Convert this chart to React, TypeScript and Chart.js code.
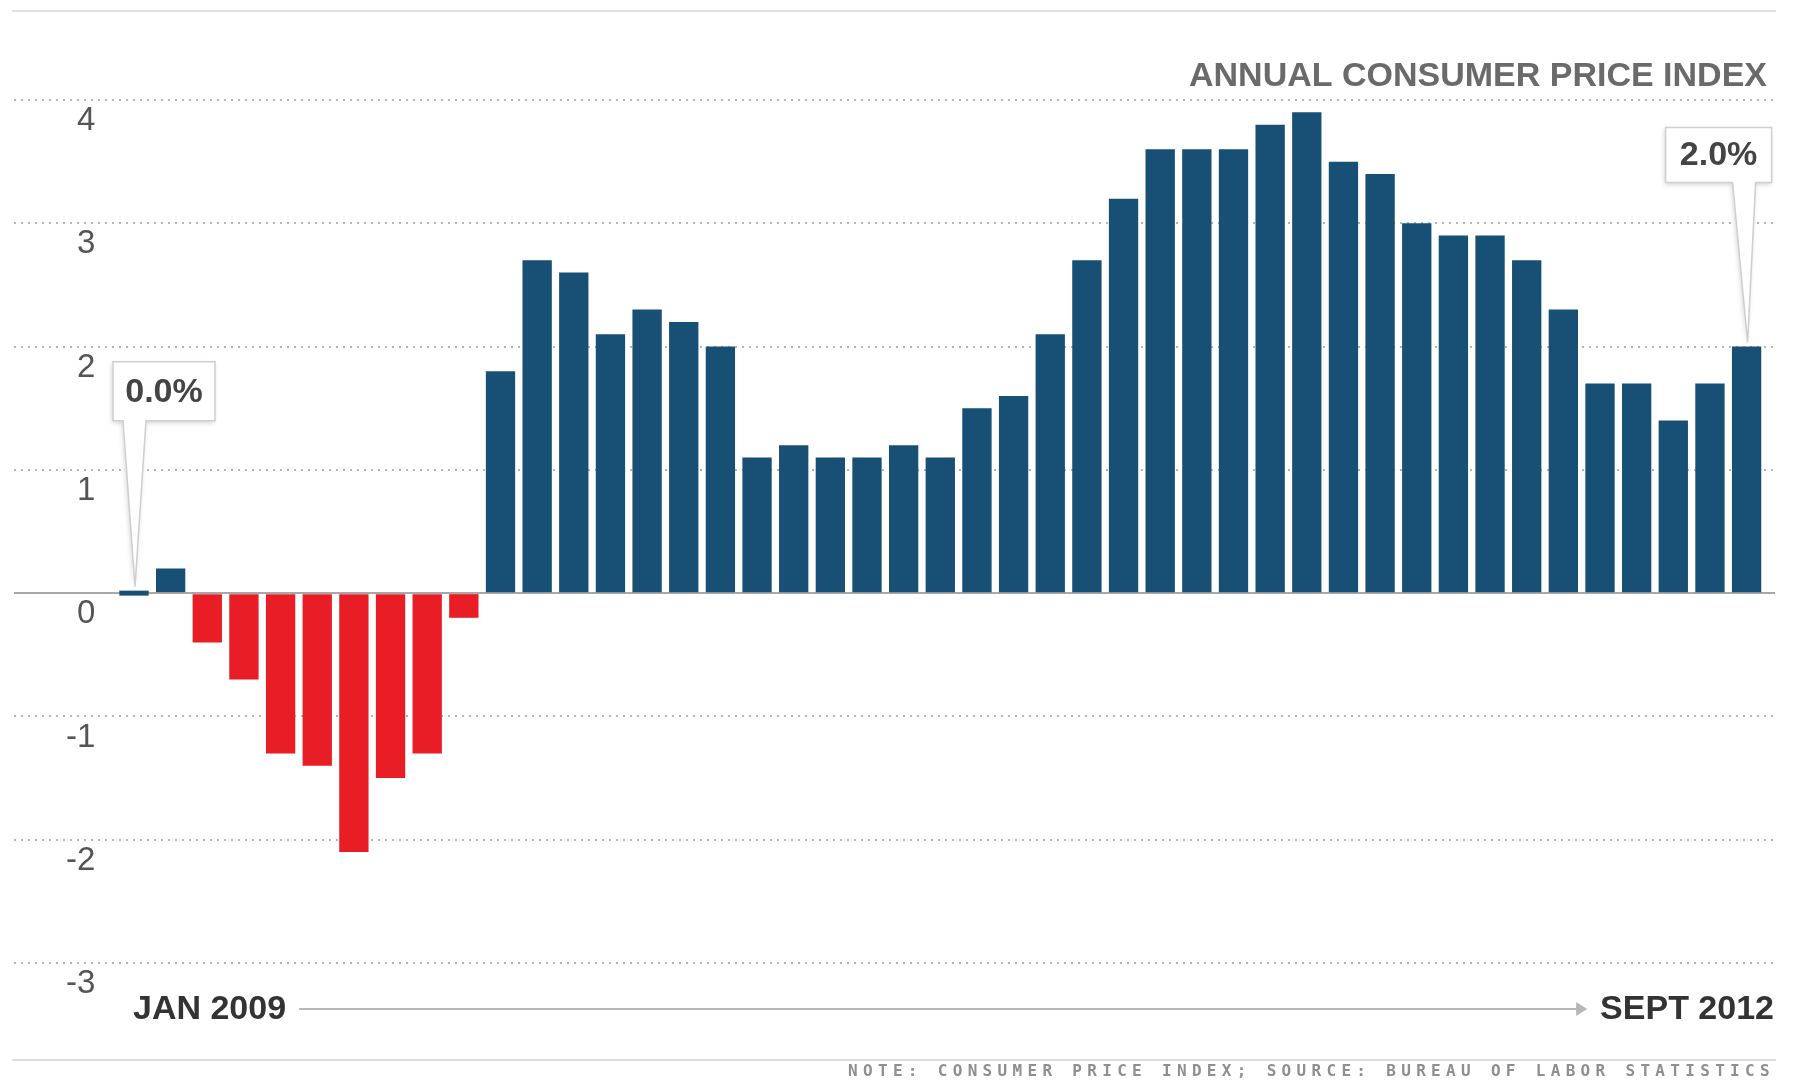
import React, { useEffect, useRef } from 'react';
import { Chart, registerables } from 'chart.js';

Chart.register(...registerables);

// ---- data ----
const MONTHS = [
  'JAN 2009', 'FEB 2009', 'MAR 2009', 'APR 2009', 'MAY 2009', 'JUN 2009', 'JUL 2009', 'AUG 2009', 'SEPT 2009', 'OCT 2009', 'NOV 2009', 'DEC 2009',
  'JAN 2010', 'FEB 2010', 'MAR 2010', 'APR 2010', 'MAY 2010', 'JUN 2010', 'JUL 2010', 'AUG 2010', 'SEPT 2010', 'OCT 2010', 'NOV 2010', 'DEC 2010',
  'JAN 2011', 'FEB 2011', 'MAR 2011', 'APR 2011', 'MAY 2011', 'JUN 2011', 'JUL 2011', 'AUG 2011', 'SEPT 2011', 'OCT 2011', 'NOV 2011', 'DEC 2011',
  'JAN 2012', 'FEB 2012', 'MAR 2012', 'APR 2012', 'MAY 2012', 'JUN 2012', 'JUL 2012', 'AUG 2012', 'SEPT 2012',
];

const CPI = [
  0.0, 0.2, -0.4, -0.7, -1.3, -1.4, -2.1, -1.5, -1.3, -0.2, 1.8, 2.7,
  2.6, 2.1, 2.3, 2.2, 2.0, 1.1, 1.2, 1.1, 1.1, 1.2, 1.1, 1.5,
  1.6, 2.1, 2.7, 3.2, 3.6, 3.6, 3.6, 3.8, 3.9, 3.5, 3.4, 3.0,
  2.9, 2.9, 2.7, 2.3, 1.7, 1.7, 1.4, 1.7, 2.0,
];

const Y_MIN = -3;
const Y_MAX = 4;
const Y_STEP = 1;

const CALLOUT_INDEXES = [0, CPI.length - 1];

const TITLE = 'ANNUAL CONSUMER PRICE INDEX';
const FOOTER = 'NOTE: CONSUMER PRICE INDEX; SOURCE: BUREAU OF LABOR STATISTICS';

// ---- styles ----
const BLUE = '#174f75';
const RED = '#e81d25';
const FONT = '"Liberation Sans", Arial, sans-serif';

// callout geometry relative to the tip (above the bar top)
const CALLOUT_GEOM: Record<string, { dx: number; dy: number; w: number; h: number; tl: number; tr: number }> = {
  first: { dx: -22, dy: -225, w: 102, h: 59, tl: -12, tr: 11 },
  last: { dx: -82, dy: -215, w: 106, h: 55, tl: -15, tr: 8 },
};

function drawCallout(ctx: CanvasRenderingContext2D, tipX: number, tipY: number, g: any, text: string) {
  const l = tipX + g.dx;
  const t = tipY + g.dy;
  const r = l + g.w;
  const b = t + g.h;
  ctx.save();
  ctx.beginPath();
  ctx.moveTo(l, t);
  ctx.lineTo(r, t);
  ctx.lineTo(r, b);
  ctx.lineTo(tipX + g.tr, b);
  ctx.lineTo(tipX, tipY);
  ctx.lineTo(tipX + g.tl, b);
  ctx.lineTo(l, b);
  ctx.closePath();
  ctx.shadowColor = 'rgba(0,0,0,0.18)';
  ctx.shadowBlur = 5;
  ctx.shadowOffsetX = -1;
  ctx.shadowOffsetY = 2;
  ctx.fillStyle = '#ffffff';
  ctx.fill();
  ctx.shadowColor = 'transparent';
  ctx.lineWidth = 1.5;
  ctx.strokeStyle = '#cfcfcf';
  ctx.stroke();
  ctx.fillStyle = '#444444';
  ctx.font = `bold 34px ${FONT}`;
  ctx.textAlign = 'center';
  ctx.textBaseline = 'middle';
  ctx.fillText(text, (l + r) / 2, (t + b) / 2 + 1);
  ctx.restore();
}

const decorations = {
  id: 'decorations',
  afterDraw(chart: any) {
    const ctx: CanvasRenderingContext2D = chart.ctx;
    const area = chart.chartArea;
    const xs = chart.scales.x;
    const meta = chart.getDatasetMeta(0);
    ctx.save();

    // top and bottom rules
    ctx.strokeStyle = '#e0e0e0';
    ctx.lineWidth = 2;
    ctx.beginPath();
    ctx.moveTo(12, 11);
    ctx.lineTo(1776, 11);
    ctx.moveTo(12, 1060);
    ctx.lineTo(1776, 1060);
    ctx.stroke();

    // title
    ctx.font = `bold 34px ${FONT}`;
    ctx.fillStyle = '#6a6a6a';
    ctx.textAlign = 'right';
    ctx.textBaseline = 'middle';
    ctx.fillText(TITLE, area.right - 8, 77);

    // time axis labels
    const axisY = area.bottom + 47;
    ctx.fillStyle = '#333333';
    ctx.textAlign = 'left';
    const first = MONTHS[0];
    const last = MONTHS[MONTHS.length - 1];
    const firstX = xs.getPixelForValue(0) - 1;
    ctx.fillText(first, firstX, axisY);
    const firstEnd = firstX + ctx.measureText(first).width;
    ctx.textAlign = 'right';
    const lastRight = area.right - 1;
    ctx.fillText(last, lastRight, axisY);
    const lastStart = lastRight - ctx.measureText(last).width;

    // arrow
    const ax1 = firstEnd + 13;
    const ax2 = lastStart - 13;
    ctx.strokeStyle = '#b8b8b8';
    ctx.fillStyle = '#b8b8b8';
    ctx.lineWidth = 2;
    ctx.beginPath();
    ctx.moveTo(ax1, axisY - 1);
    ctx.lineTo(ax2 - 8, axisY - 1);
    ctx.stroke();
    ctx.beginPath();
    ctx.moveTo(ax2 - 11, axisY - 8);
    ctx.lineTo(ax2, axisY - 1);
    ctx.lineTo(ax2 - 11, axisY + 6);
    ctx.closePath();
    ctx.fill();

    // footer (pixel-like font, spaced)
    ctx.font = `bold 16px "DejaVu Sans Mono", monospace`;
    ctx.fillStyle = '#8f8f8f';
    ctx.textAlign = 'left';
    const pitch = 14.95;
    const startX = 1770 - (FOOTER.length - 1) * pitch - 10;
    for (let i = 0; i < FOOTER.length; i++) {
      ctx.fillText(FOOTER[i], startX + i * pitch, 1072);
    }

    // callouts
    CALLOUT_INDEXES.forEach((idx, k) => {
      const el = meta.data[idx];
      if (!el) return;
      const top = Math.min(el.y, el.base);
      const g = k === 0 ? CALLOUT_GEOM.first : CALLOUT_GEOM.last;
      drawCallout(ctx, el.x + 1, top - 4, g, CPI[idx].toFixed(1) + '%');
    });

    ctx.restore();
  },
};

export default function App() {
  const ref = useRef<HTMLCanvasElement>(null);

  useEffect(() => {
    const canvas = ref.current;
    if (!canvas) return;
    const chart = new Chart(canvas, {
      type: 'bar',
      data: {
        labels: MONTHS,
        datasets: [
          {
            label: 'Annual CPI',
            data: CPI.map((v, i) => ({ x: i, y: v })),
            backgroundColor: CPI.map((v) => (v < 0 ? RED : BLUE)),
            borderWidth: 0,
            barPercentage: 0.8,
            categoryPercentage: 1,
            minBarLength: 5,
          },
        ],
      },
      options: {
        animation: false,
        responsive: true,
        maintainAspectRatio: false,
        layout: { padding: { top: 100, bottom: 118, left: 14, right: 18 } },
        plugins: {
          legend: { display: false },
          tooltip: { enabled: false },
          title: { display: false },
        },
        scales: {
          x: {
            type: 'linear',
            display: false,
            offset: false,
            bounds: 'ticks',
            min: -3.274,
            max: 44.775,
            ticks: { stepSize: 10, includeBounds: false },
            grid: { display: false, offset: false },
          },
          y: {
            min: Y_MIN,
            max: Y_MAX,
            afterFit: (s: any) => {
              s.width = 0;
            },
            ticks: {
              stepSize: Y_STEP,
              mirror: true,
              crossAlign: 'far',
              padding: 52,
              labelOffset: 21,
              color: '#555555',
              font: { family: FONT, size: 33 },
            },
            grid: {
              drawTicks: false,
              color: (c: any) => (c.tick && c.tick.value === 0 ? '#a8a8a8' : '#b5b5b5'),
              lineWidth: 2,
            },
            border: {
              display: false,
              dash: (c: any) => (c.tick && c.tick.value === 0 ? [] : [2, 5]),
            },
          },
        },
      },
      plugins: [decorations],
    } as any);
    return () => chart.destroy();
  }, []);

  return (
    <div style={{ position: 'fixed', left: 0, top: 0, width: 1793, height: 1081, background: '#ffffff' }}>
      <canvas ref={ref} />
    </div>
  );
}
